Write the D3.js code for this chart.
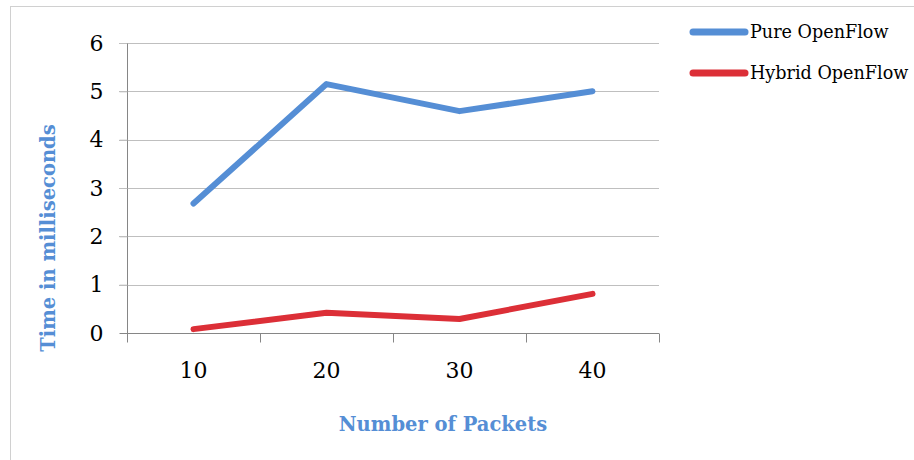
<!DOCTYPE html>
<html>
<head>
<meta charset="utf-8">
<script src="https://cdn.jsdelivr.net/npm/d3@7"></script>
<style>
  html, body { margin: 0; padding: 0; background: #fff; }
  svg { display: block; }
</style>
</head>
<body>
<svg id="chart" width="914" height="460"></svg>
<script>
// Packet counts on the x axis
const categories = ["10", "20", "30", "40"];
// Processing time in milliseconds for each approach
const pureOpenFlow = [2.68, 5.15, 4.59, 5.0];
const hybridOpenFlow = [0.08, 0.42, 0.29, 0.81];
const yTicks = [0, 1, 2, 3, 4, 5, 6];
const seriesNames = ["Pure OpenFlow", "Hybrid OpenFlow"];
const seriesColors = ["#558ed5", "#dc2f37"];

const svg = d3.select("#chart");
const serif = "'DejaVu Serif', 'Liberation Serif', serif";

// Outer chart frame
svg.append("rect")
  .attr("x", 10.5).attr("y", 6.5)
  .attr("width", 920).attr("height", 470)
  .attr("fill", "none").attr("stroke", "#d0d0d0").attr("stroke-width", 1);

const plot = { left: 127, right: 659, top: 43, bottom: 333 };

const x = d3.scaleBand().domain(categories).range([plot.left, plot.right]);
const y = d3.scaleLinear().domain([0, 6]).range([plot.bottom, plot.top]);

// Horizontal gridlines with short ticks to the left of the axis
const grid = svg.append("g");
grid.selectAll("line").data(yTicks.filter(d => d > 0)).join("line")
  .attr("x1", plot.left - 8).attr("x2", plot.right)
  .attr("y1", d => Math.round(y(d)) + 0.5).attr("y2", d => Math.round(y(d)) + 0.5)
  .attr("stroke", "#bfbfbf").attr("stroke-width", 1);

// Y axis
const yAxis = svg.append("g")
  .attr("transform", `translate(${plot.left + 0.5},0)`)
  .call(d3.axisLeft(y).tickValues(yTicks).tickSize(8).tickPadding(16).tickFormat(d3.format("d")));
yAxis.select(".domain").attr("d", `M0,${plot.top}V${plot.bottom + 9}`).attr("stroke", "#868686");
yAxis.selectAll(".tick line").attr("stroke", d => d === 0 ? "#868686" : "#bfbfbf");
yAxis.selectAll(".tick text")
  .attr("font-family", serif).attr("font-size", 22).attr("fill", "#000");

// X axis with tick marks at category boundaries
const xAxisG = svg.append("g")
  .attr("transform", `translate(0,${Math.round(plot.bottom) + 0.5})`);
xAxisG.append("line")
  .attr("x1", plot.left).attr("x2", plot.right)
  .attr("stroke", "#868686");
const boundaries = categories.map(c => x(c)).concat([x(categories[categories.length - 1]) + x.bandwidth()]);
xAxisG.selectAll("line.b").data(boundaries).join("line")
  .attr("class", "b")
  .attr("x1", d => Math.round(d) + 0.5).attr("x2", d => Math.round(d) + 0.5)
  .attr("y1", 0).attr("y2", 9)
  .attr("stroke", "#868686");
xAxisG.selectAll("text").data(categories).join("text")
  .attr("x", d => x(d) + x.bandwidth() / 2)
  .attr("y", 44)
  .attr("text-anchor", "middle")
  .attr("font-family", serif).attr("font-size", 22).attr("fill", "#000")
  .text(d => d);

// Series lines
const line = d3.line()
  .x((d, i) => x(categories[i]) + x.bandwidth() / 2)
  .y(d => y(d));

[pureOpenFlow, hybridOpenFlow].forEach((vals, i) => {
  svg.append("path")
    .datum(vals)
    .attr("d", line)
    .attr("fill", "none")
    .attr("stroke", seriesColors[i])
    .attr("stroke-width", 6)
    .attr("stroke-linecap", "round")
    .attr("stroke-linejoin", "round");
});

// Axis titles
svg.append("text")
  .attr("x", 443).attr("y", 431)
  .attr("text-anchor", "middle")
  .attr("font-family", serif).attr("font-weight", "bold").attr("font-size", 19.5)
  .attr("fill", "#558ed5")
  .text("Number of Packets");

svg.append("text")
  .attr("transform", "translate(55,238) rotate(-90)")
  .attr("text-anchor", "middle")
  .attr("font-family", serif).attr("font-weight", "bold").attr("font-size", 19.5)
  .attr("fill", "#558ed5")
  .text("Time in milliseconds");

// Legend
const legend = svg.append("g");
seriesNames.forEach((name, i) => {
  const ly = 32 + i * 41;
  legend.append("line")
    .attr("x1", 693).attr("x2", 745)
    .attr("y1", ly).attr("y2", ly)
    .attr("stroke", seriesColors[i]).attr("stroke-width", 7)
    .attr("stroke-linecap", "round");
  legend.append("text")
    .attr("x", 750).attr("y", ly + 6)
    .attr("font-family", serif).attr("font-size", 17.6).attr("fill", "#000")
    .text(name);
});
</script>
</body>
</html>
